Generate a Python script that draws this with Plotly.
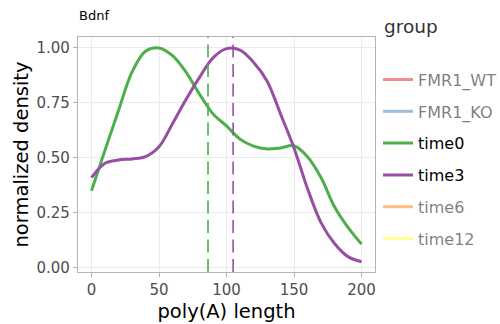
import plotly.graph_objects as go

# poly(A) length grid and normalized densities per group
length = [0, 10, 20, 30, 40, 50, 60, 70, 80, 90, 100,
          110, 120, 130, 140, 150, 160, 170, 180, 190, 200]
time0_density = [0.35, 0.535, 0.715, 0.89, 0.985, 1.0, 0.965, 0.89, 0.79, 0.70, 0.645,
                 0.585, 0.553, 0.54, 0.545, 0.555, 0.505, 0.41, 0.277, 0.183, 0.107]
time3_density = [0.41, 0.475, 0.49, 0.495, 0.505, 0.55, 0.655, 0.765, 0.866, 0.955, 0.997,
                 0.99, 0.935, 0.85, 0.70, 0.545, 0.36, 0.205, 0.11, 0.05, 0.027]

# median poly(A) length per group
time0_median = 86.3
time3_median = 104.9

groups = ["FMR1_WT", "FMR1_KO", "time0", "time3", "time6", "time12"]
colors = ["#E41A1C", "#377EB8", "#4DAF4A", "#984EA3", "#FF7F00", "#FFFF33"]
series = {"time0": time0_density, "time3": time3_density}
medians = {"time0": time0_median, "time3": time3_median}

FONT = "DejaVu Sans"

fig = go.Figure()
for name, col in zip(groups, colors):
    if name in series:
        fig.add_trace(go.Scatter(
            x=length, y=series[name], mode="lines", name=name,
            line=dict(color=col, width=3, shape="spline", smoothing=1.0),
            legendgroup=name, hoverinfo="x+y+name",
        ))
    else:
        # groups without data for this gene are toggled off
        fig.add_trace(go.Scatter(
            x=[None], y=[None], mode="lines", name=name,
            line=dict(color=col, width=3),
            legendgroup=name, visible="legendonly",
        ))

for name, m in medians.items():
    col = colors[groups.index(name)]
    fig.add_shape(type="line", xref="x", yref="paper", x0=m, x1=m, y0=0, y1=1,
                  line=dict(color=col, width=1.6, dash="13px,6.5px"), layer="above")

axis_common = dict(
    showline=True, linecolor="#b3b3b3", linewidth=1.3, mirror=True,
    showgrid=True, gridcolor="#ebebeb", gridwidth=1,
    ticks="outside", ticklen=4, tickcolor="#b3b3b3", tickwidth=1.3,
    tickfont=dict(family=FONT, size=15, color="#4d4d4d"),
    zeroline=False,
)

fig.update_layout(
    width=500, height=324,
    margin=dict(l=78, r=125, t=37, b=52, autoexpand=False),
    paper_bgcolor="white", plot_bgcolor="white",
    font=dict(family=FONT, color="#000000"),
    title=dict(text="Bdnf", x=79 / 500, xref="container", xanchor="left",
               y=1 - 15.5 / 324, yref="container", yanchor="middle",
               font=dict(family=FONT, size=13, color="#000000")),
    xaxis=dict(range=[-10, 210], tickvals=[0, 50, 100, 150, 200],
               ticktext=["0", "50", "100", "150", "200"],
               title=dict(text="poly(A) length", standoff=6,
                          font=dict(family=FONT, size=19.5, color="#000000")),
               **axis_common),
    yaxis=dict(range=[-0.02, 1.05], tickvals=[0, 0.25, 0.5, 0.75, 1.0],
               ticktext=["0.00", "0.25", "0.50", "0.75", "1.00"],
               title=dict(text="normalized density", standoff=2,
                          font=dict(family=FONT, size=19.5, color="#000000")),
               **axis_common),
    legend=dict(x=1.0102, xanchor="left", y=0.891, yanchor="top",
                font=dict(family=FONT, size=16, color="#000000"),
                tracegroupgap=8, bgcolor="rgba(0,0,0,0)", borderwidth=0),
    annotations=[dict(text="group", xref="paper", yref="paper",
                      x=(382 - 78) / 297, y=1 + (37 - 26.7) / 235,
                      xanchor="left", yanchor="middle", showarrow=False,
                      font=dict(family=FONT, size=18.5, color="#333333"))],
    showlegend=True,
)

fig.write_html("out.html")
